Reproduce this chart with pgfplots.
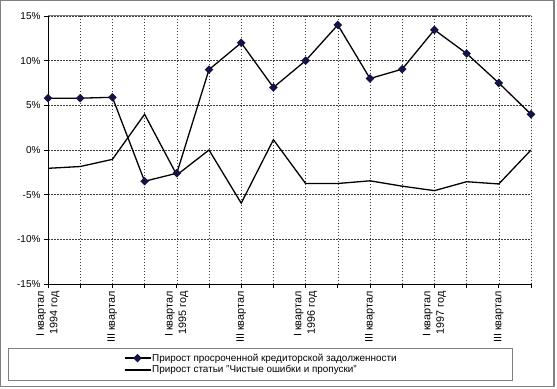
\documentclass[border=0pt]{standalone}
\usepackage{fontspec}
\setmainfont{Liberation Sans}
\usepackage{pgfplots}
\usepackage{pgfplotstable}
\pgfplotsset{compat=1.18}
\definecolor{navym}{RGB}{20,20,70}
\definecolor{gridc}{RGB}{60,60,60}
\definecolor{framec}{RGB}{128,128,128}

\pgfplotstableread{
x s1 s2
0 5.8 -2.05
1 5.8 -1.85
2 5.9 -1.05
3 -3.5 4.0
4 -2.6 -2.8
5 9.0 0.0
6 12.0 -5.95
7 7.0 1.15
8 10.0 -3.75
9 14.0 -3.75
10 8.0 -3.45
11 9.05 -4.05
12 13.45 -4.55
13 10.8 -3.55
14 7.5 -3.8
15 4.0 0.0
}\data

\begin{document}
\begin{tikzpicture}
\useasboundingbox (-48bp,-105bp) rectangle (509bp,284bp);
\draw[framec, line width=1.2bp] (-47.4bp,-102.6bp) rectangle (506bp,283.4bp);
\draw[framec, line width=1bp] (-39bp,-64bp) rectangle (464bp,-96bp);
\begin{axis}[
  at={(0,0)}, anchor=south west,
  scale only axis, width=483bp, height=268bp,
  xmin=0, xmax=15, ymin=-15, ymax=15,
  axis lines*=left,
  axis line style={black, line width=0.9bp},
  tick align=outside,
  major tick length=4bp,
  tick style={black, line width=0.8bp},
  grid=major,
  grid style={gridc, dash pattern=on 1.5bp off 1.5bp, line width=0.6bp},
  xtick={0,...,15},
  xticklabels={{I квартал\\1994 год},,{III квартал},,{I квартал\\1995 год},,{III квартал},,{I квартал\\1996 год},,{III квартал},,{I квартал\\1997 год},,{III квартал},},
  xticklabel style={rotate=90, anchor=east, align=right, font=\fontsize{10.8bp}{13.5bp}\selectfont},
  ytick={-15,-10,...,15},
  yticklabels={-15\%,-10\%,-5\%,0\%,5\%,10\%,15\%},
  yticklabel style={font=\fontsize{10bp}{11bp}\selectfont},
  legend style={at={(axis description cs:0.4405,-0.2985)}, anchor=center,
    draw=none, fill=none, font=\fontsize{9.9bp}{11bp}\selectfont,
    row sep=1bp, nodes={inner xsep=1bp, inner ysep=1bp}},
  legend cell align=left,
  legend image code/.code={\draw[mark repeat=2,mark phase=2] plot coordinates {(0bp,0bp) (13bp,0bp) (26bp,0bp)};},
]
\draw[framec, line width=1bp] (rel axis cs:0,1) -- (rel axis cs:1,1) -- (rel axis cs:1,0);
\addplot[black, line width=1.3bp, mark=square*, mark size=2.4bp,
  mark options={rotate=45, fill=navym, draw=navym, solid}] table[x=x, y=s1] {\data};
\addlegendentry{Прирост просроченной кредиторской задолженности}
\addplot[black, line width=1.3bp, mark=none] table[x=x, y=s2] {\data};
\addlegendentry{Прирост статьи "Чистые ошибки и пропуски"}
\end{axis}
\end{tikzpicture}
\end{document}
